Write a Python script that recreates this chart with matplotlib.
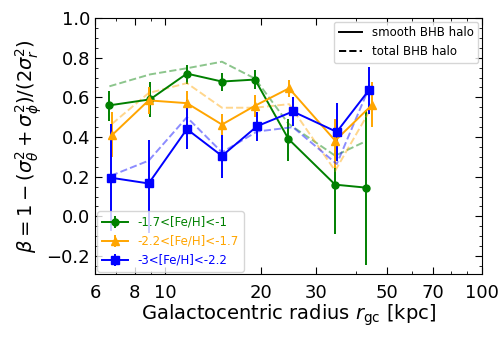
import numpy as np
import matplotlib.pyplot as plt
from matplotlib.lines import Line2D
from matplotlib.ticker import FixedLocator, FixedFormatter, MultipleLocator

# radial bins and anisotropy per metallicity group
r_mr = [6.66, 8.95, 11.7, 15.1, 19.2, 24.5, 34.4, 43.0]
beta_mr = [0.56, 0.59, 0.72, 0.68, 0.69, 0.39, 0.16, 0.145]
lo_mr = [0.08, 0.09, 0.05, 0.05, 0.05, 0.11, 0.25, 0.39]
hi_mr = [0.07, 0.09, 0.045, 0.045, 0.05, 0.10, 0.20, 0.39]
tot_mr = [0.656, 0.716, 0.747, 0.78, 0.695, 0.467, 0.306, 0.379]

r_im = [6.79, 8.86, 11.7, 15.1, 19.2, 24.6, 34.4, 44.9]
beta_im = [0.41, 0.585, 0.571, 0.463, 0.558, 0.646, 0.382, 0.561]
lo_im = [0.11, 0.07, 0.06, 0.055, 0.058, 0.046, 0.14, 0.11]
hi_im = [0.115, 0.065, 0.061, 0.054, 0.056, 0.044, 0.11, 0.115]
tot_im = [0.467, 0.622, 0.672, 0.548, 0.548, 0.566, 0.23, 0.551]

r_mp = [6.73, 8.86, 11.7, 15.1, 19.5, 25.3, 34.8, 43.9]
beta_mp = [0.195, 0.166, 0.44, 0.305, 0.455, 0.529, 0.426, 0.635]
lo_mp = [0.27, 0.25, 0.10, 0.11, 0.073, 0.071, 0.145, 0.118]
hi_mp = [0.27, 0.22, 0.145, 0.106, 0.071, 0.071, 0.147, 0.118]
tot_mp = [0.205, 0.281, 0.50, 0.323, 0.428, 0.45, 0.264, 0.644]

xticks = [6, 8, 10, 20, 30, 50, 70, 100]

fig = plt.figure(figsize=(5.03, 3.48), dpi=100)
ax = fig.add_axes([0.189, 0.213, 0.769, 0.735])

groups = [
    (r_mr, beta_mr, lo_mr, hi_mr, tot_mr, 'green', 'o', 5, '-1.7<[Fe/H]<-1'),
    (r_im, beta_im, lo_im, hi_im, tot_im, 'orange', '^', 6, '-2.2<[Fe/H]<-1.7'),
    (r_mp, beta_mp, lo_mp, hi_mp, tot_mp, 'blue', 's', 5.5, '-3<[Fe/H]<-2.2'),
]
handles = []
for r, b, lo, hi, tot, c, m, ms, lab in groups:
    h = ax.errorbar(r, b, yerr=[lo, hi], color=c, marker=m, ms=ms,
                    lw=1.4, elinewidth=1.4, capsize=0, label=lab)
    handles.append(h)
    ax.plot(r, tot, ls='--', color=c, alpha=0.45, lw=1.4)

ax.set_xscale('log')
ax.set_xlim(6, 100)
ax.set_ylim(-0.29, 1.0)
ax.xaxis.set_major_locator(FixedLocator(xticks))
ax.xaxis.set_major_formatter(FixedFormatter([str(t) for t in xticks]))
ax.xaxis.set_minor_locator(FixedLocator([7, 9, 40, 60, 80, 90]))
ax.xaxis.set_minor_formatter(FixedFormatter([]))
ax.yaxis.set_major_locator(MultipleLocator(0.2))
ax.yaxis.set_minor_locator(MultipleLocator(0.05))
ax.tick_params(which='both', direction='in', top=True, right=True, labelsize=13)
ax.tick_params(which='major', length=5)
ax.tick_params(which='minor', length=2.5)
ax.tick_params(axis='x', which='major', pad=7)

ax.set_xlabel(r'Galactocentric radius $r_{\rm gc}$ [kpc]', fontsize=14, labelpad=1)
ax.set_ylabel(r'$\beta = 1-(\sigma_\theta^2+\sigma_\phi^2)/(2\sigma_r^2)$', fontsize=14, labelpad=2)

leg1 = ax.legend(handles=handles, loc='lower left', fontsize=8.5, labelcolor='linecolor',
                 handlelength=2.2, borderaxespad=0.2)
ax.add_artist(leg1)
style_handles = [Line2D([], [], color='k', ls='-', lw=1.4),
                 Line2D([], [], color='k', ls='--', lw=1.4)]
ax.legend(style_handles, ['smooth BHB halo', 'total BHB halo'], loc='upper right',
          fontsize=8.5, handlelength=2.0, borderaxespad=0.3)

fig.savefig('out.png', dpi=100)
